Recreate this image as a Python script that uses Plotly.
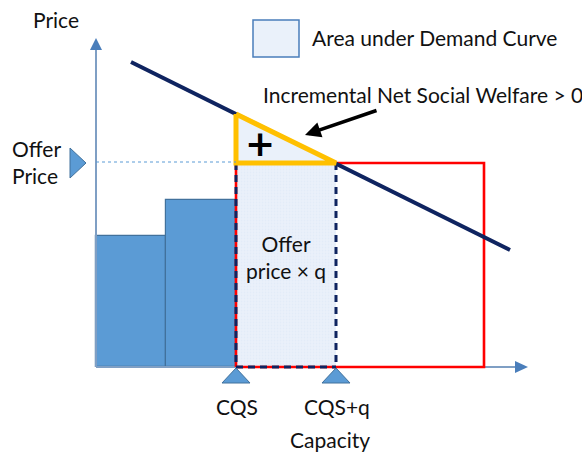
import plotly.graph_objects as go

# ---- diagram values (price / capacity units) ----
bar_left = [0, 70]
bar_width = [70, 70]
bar_price = [131, 167]
cqs = 140
q = 100
offer_price = 204
red_right = 388
demand_x = [35, 414]
demand_y = [305, 117]
tick_labels = ["CQS", "CQS+q"]

# ---- style constants ----
FONT = "Lato"
NAVY = "#0f2460"
BLUE = "#5b9bd5"
BLUE_EDGE = "#41719c"
AXIS = "#7f9fc4"
ARROW_BLUE = "#4a7ebb"
YELLOW = "#ffc000"
RED = "#ff0000"
SHADE = "#eaf1fa"


def demand_at(x):
    (x0, x1), (y0, y1) = demand_x, demand_y
    return y0 + (y1 - y0) * (x - x0) / (x1 - x0)


fig = go.Figure()

# supply bars
fig.add_trace(go.Bar(
    x=[l + w / 2 for l, w in zip(bar_left, bar_width)], y=bar_price, width=bar_width,
    marker=dict(color=BLUE, line=dict(color=BLUE_EDGE, width=1.2)), hoverinfo="skip"))

# axes
x_tip, y_tip = 432, 329
fig.add_trace(go.Scatter(x=[0, 0, None, 0, x_tip - 13], y=[y_tip - 12, 0, None, 0, 0],
                         mode="lines", line=dict(color=AXIS, width=2), hoverinfo="skip"))
fig.add_trace(go.Scatter(x=[-6, 6, 0, -6], y=[y_tip - 12, y_tip - 12, y_tip, y_tip - 12],
                         mode="lines", fill="toself", fillcolor=ARROW_BLUE,
                         line=dict(width=0), hoverinfo="skip"))
fig.add_trace(go.Scatter(x=[x_tip - 13, x_tip - 13, x_tip, x_tip - 13], y=[-6, 6, 0, -6],
                         mode="lines", fill="toself", fillcolor=ARROW_BLUE,
                         line=dict(width=0), hoverinfo="skip"))

# shaded area under demand (offer price x q)
fig.add_trace(go.Scatter(
    x=[cqs, cqs, cqs + q, cqs + q, cqs], y=[0, offer_price, offer_price, 0, 0],
    mode="lines", fill="toself", fillcolor=SHADE, line=dict(width=0),
    fillpattern=dict(shape=".", bgcolor=SHADE, fgcolor="#dbe6f5", size=3, solidity=0.3),
    hoverinfo="skip"))

# red rectangle
fig.add_trace(go.Scatter(
    x=[cqs, cqs, red_right, red_right, cqs], y=[0, offer_price, offer_price, 0, 0],
    mode="lines", line=dict(color=RED, width=2.6), hoverinfo="skip"))

# navy dashed outline of the q block
fig.add_trace(go.Scatter(
    x=[cqs, cqs, None, cqs + q, cqs + q, None, cqs, cqs + q],
    y=[offer_price, 0, None, offer_price, 0, None, 0, 0],
    mode="lines", line=dict(color=NAVY, width=3, dash="7px,5px"), hoverinfo="skip"))

# demand curve
fig.add_trace(go.Scatter(x=demand_x, y=demand_y, mode="lines",
                         line=dict(color=NAVY, width=4), hoverinfo="skip"))

# incremental net social welfare triangle
fig.add_trace(go.Scatter(
    x=[cqs, cqs, cqs + q, cqs], y=[demand_at(cqs), offer_price, offer_price, demand_at(cqs)],
    mode="lines", fill="toself", fillcolor=SHADE, line=dict(color=YELLOW, width=5),
    hoverinfo="skip"))

# offer price dotted guide
fig.add_trace(go.Scatter(x=[0, cqs], y=[offer_price + 1, offer_price + 1], mode="lines",
                         line=dict(color=BLUE, width=1, dash="dot"), hoverinfo="skip"))

# tick triangles at CQS and CQS+q
tx, ty = [], []
for c in [cqs, cqs + q]:
    tx += [c - 14, c + 14, c, c - 14, None]
    ty += [-16, -16, -1, -16, None]
fig.add_trace(go.Scatter(x=tx, y=ty, mode="lines", fill="toself", fillcolor=BLUE,
                         line=dict(color=BLUE_EDGE, width=1), hoverinfo="skip"))
# offer price marker
fig.add_trace(go.Scatter(x=[-26, -26, -10, -26],
                         y=[offer_price - 15, offer_price + 15, offer_price, offer_price - 15],
                         mode="lines", fill="toself", fillcolor=BLUE,
                         line=dict(color=BLUE_EDGE, width=1), hoverinfo="skip"))

# legend swatch
fig.add_shape(type="rect", x0=157, x1=203, y0=310, y1=347,
              fillcolor=SHADE, line=dict(color=ARROW_BLUE, width=1.5))

txt = dict(family=FONT, size=21, color="#111111")
ann = [
    dict(x=-40, y=348, text="Price", xanchor="center"),
    dict(x=-86, y=offer_price + 1, text="Offer<br>Price", xanchor="left", align="left"),
    dict(x=214, y=330, text="Area under Demand Curve", xanchor="left"),
    dict(x=165, y=273, text="Incremental Net Social Welfare > 0", xanchor="left"),
    dict(x=cqs + q / 2, y=110, text="Offer<br>price × q", xanchor="center", align="center"),
    dict(x=cqs + 1, y=-39, text=tick_labels[0], xanchor="center"),
    dict(x=cqs + q + 1, y=-39, text=tick_labels[1], xanchor="center"),
    dict(x=234, y=-72, text="Capacity", xanchor="center"),
]
for a in ann:
    fig.add_annotation(xref="x", yref="y", showarrow=False, yanchor="middle", font=txt, **a)

fig.add_annotation(xref="x", yref="y", x=164, y=224, text="<b>+</b>", showarrow=False,
                   font=dict(family="DejaVu Sans", size=36, color="black"))
fig.add_annotation(xref="x", yref="y", x=209, y=232, axref="x", ayref="y", ax=282, ay=257,
                   text="", showarrow=True, arrowhead=2, arrowsize=0.9, arrowwidth=3.5,
                   arrowcolor="black")

fig.update_layout(
    width=582, height=455, margin=dict(l=0, r=0, t=0, b=0),
    paper_bgcolor="white", plot_bgcolor="white", showlegend=False, bargap=0,
    xaxis=dict(range=[-96, 486], visible=False, fixedrange=True),
    yaxis=dict(range=[-88, 367], visible=False, fixedrange=True),
)
fig.write_html("out.html", config={"displayModeBar": False},
               post_script="document.body.style.margin='0px';document.body.style.padding='0px';")
